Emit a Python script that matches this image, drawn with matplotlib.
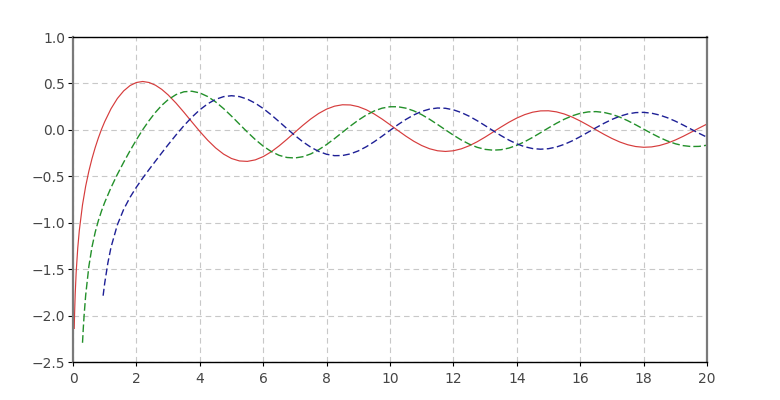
import matplotlib
matplotlib.use("Agg")
import matplotlib.pyplot as plt

# ---- data (three oscillating curves) ----
x_red = [0.039, 0.05, 0.07, 0.1, 0.15, 0.2, 0.3, 0.4, 0.5, 0.6, 0.7, 0.8, 0.9, 1.0,
         1.2, 1.4, 1.6, 1.8, 2.0, 2.2, 2.4, 2.6, 2.8,
         3.0, 3.25, 3.5, 3.75, 4.0, 4.25, 4.5, 4.75, 5.0, 5.25, 5.5, 5.75,
         6.0, 6.25, 6.5, 6.75, 7.0, 7.25, 7.5, 7.75, 8.0, 8.25, 8.5, 8.75,
         9.0, 9.25, 9.5, 9.75, 10.0, 10.25, 10.5, 10.75, 11.0, 11.25, 11.5, 11.75,
         12.0, 12.25, 12.5, 12.75, 13.0, 13.25, 13.5, 13.75, 14.0, 14.25, 14.5, 14.75,
         15.0, 15.25, 15.5, 15.75, 16.0, 16.25, 16.5, 16.75, 17.0, 17.25, 17.5, 17.75,
         18.0, 18.25, 18.5, 18.75, 19.0, 19.25, 19.5, 19.75, 20.0]
y_red = [-2.138, -1.979, -1.764, -1.534, -1.271, -1.081, -0.807, -0.606, -0.445,
         -0.309, -0.191, -0.087, 0.006, 0.088, 0.228, 0.338, 0.420, 0.477, 0.510,
         0.521, 0.510, 0.481, 0.436,
         0.3769, 0.2883, 0.1891, 0.0853, -0.0169, -0.1119, -0.1947, -0.2612,
         -0.3085, -0.3347, -0.3395, -0.3233, -0.2882, -0.2369, -0.1732, -0.1014,
         -0.0260, 0.0484, 0.1173, 0.1767, 0.2235, 0.2551, 0.2702, 0.2682,
         0.2499, 0.2167, 0.1712, 0.1163, 0.0557, -0.0069, -0.0675, -0.1226,
         -0.1688, -0.2037, -0.2252, -0.2324, -0.2252, -0.2043, -0.1712, -0.1282,
         -0.0782, -0.0243, 0.0301, 0.0816, 0.1272, 0.1641, 0.1903, 0.2043,
         0.2055, 0.1939, 0.1706, 0.1372, 0.0958, 0.0492, 0.0002, -0.0481,
         -0.0926, -0.1308, -0.1604, -0.1796, -0.1876, -0.1837, -0.1687, -0.1433,
         -0.1095, -0.0694, -0.0255, 0.0195, 0.0626]

x_green = [0.3, 0.325, 0.35, 0.4, 0.5, 0.6, 0.7, 0.8, 0.9, 1.0, 1.2, 1.4, 1.6, 1.8,
           2.0, 2.2, 2.4, 2.6, 2.8,
           3.0, 3.25, 3.5, 3.75, 4.0, 4.25, 4.5, 4.75, 5.0, 5.25, 5.5, 5.75,
           6.0, 6.25, 6.5, 6.75, 7.0, 7.25, 7.5, 7.75, 8.0, 8.25, 8.5, 8.75,
           9.0, 9.25, 9.5, 9.75, 10.0, 10.25, 10.5, 10.75, 11.0, 11.25, 11.5, 11.75,
           12.0, 12.25, 12.5, 12.75, 13.0, 13.25, 13.5, 13.75, 14.0, 14.25, 14.5, 14.75,
           15.0, 15.25, 15.5, 15.75, 16.0, 16.25, 16.5, 16.75, 17.0, 17.25, 17.5, 17.75,
           18.0, 18.25, 18.5, 18.75, 19.0, 19.25, 19.5, 19.75, 20.0]
y_green = [-2.293, -2.135, -2.000, -1.781, -1.471, -1.260, -1.103, -0.978, -0.873,
           -0.781, -0.621, -0.479, -0.348, -0.224, -0.107, 0.002, 0.100, 0.188, 0.264,
           0.3247, 0.3797, 0.4101, 0.4158, 0.3979, 0.3585, 0.3010, 0.2292,
           0.1479, 0.0619, -0.0238, -0.1041, -0.1750, -0.2325, -0.2741, -0.2977,
           -0.3027, -0.2893, -0.2591, -0.2143, -0.1581, -0.0940, -0.0262, 0.0413,
           0.1043, 0.1593, 0.2032, 0.2335, 0.2490, 0.2489, 0.2337, 0.2046,
           0.1637, 0.1137, 0.0579, -0.0002, -0.0571, -0.1093, -0.1538, -0.1880,
           -0.2101, -0.2188, -0.2140, -0.1962, -0.1666, -0.1274, -0.0810, -0.0305,
           0.0211, 0.0705, 0.1148, 0.1513, 0.1780, 0.1933, 0.1965, 0.1875,
           0.1672, 0.1369, 0.0986, 0.0547, 0.0082, -0.0383, -0.0817, -0.1196,
           -0.1496, -0.1699, -0.1796, -0.1780, -0.1655]

x_blue = [0.95, 1.0, 1.1, 1.2, 1.4, 1.6, 1.8, 2.0, 2.2, 2.4, 2.6, 2.8,
          3.0, 3.25, 3.5, 3.75, 4.0, 4.25, 4.5, 4.75, 5.0, 5.25, 5.5, 5.75,
          6.0, 6.25, 6.5, 6.75, 7.0, 7.25, 7.5, 7.75, 8.0, 8.25, 8.5, 8.75,
          9.0, 9.25, 9.5, 9.75, 10.0, 10.25, 10.5, 10.75, 11.0, 11.25, 11.5, 11.75,
          12.0, 12.25, 12.5, 12.75, 13.0, 13.25, 13.5, 13.75, 14.0, 14.25, 14.5, 14.75,
          15.0, 15.25, 15.5, 15.75, 16.0, 16.25, 16.5, 16.75, 17.0, 17.25, 17.5, 17.75,
          18.0, 18.25, 18.5, 18.75, 19.0, 19.25, 19.5, 19.75, 20.0]
y_blue = [-1.786, -1.651, -1.433, -1.263, -1.022, -0.855, -0.726, -0.617, -0.519,
          -0.427, -0.337, -0.248,
          -0.1604, -0.0547, 0.0453, 0.1364, 0.2159, 0.2806, 0.3285, 0.3577,
          0.3677, 0.3583, 0.3308, 0.2871, 0.2299, 0.1625, 0.0889, 0.0132,
          -0.0605, -0.1282, -0.1864, -0.2320, -0.2630, -0.2779, -0.2764, -0.2588,
          -0.2267, -0.1823, -0.1284, -0.0684, -0.0059, 0.0555, 0.1120, 0.1606,
          0.1986, 0.2239, 0.2353, 0.2324, 0.2157, 0.1864, 0.1466, 0.0987,
          0.0459, -0.0087, -0.0618, -0.1101, -0.1510, -0.1820, -0.2015, -0.2084,
          -0.2027, -0.1847, -0.1558, -0.1180, -0.0736, -0.0254, 0.0236, 0.0704,
          0.1123, 0.1467, 0.1717, 0.1858, 0.1885, 0.1795, 0.1598, 0.1306,
          0.0938, 0.0517, 0.0070, -0.0375, -0.0792]

x_ticks = [0, 2, 4, 6, 8, 10, 12, 14, 16, 18, 20]
y_ticks = [-2.5, -2.0, -1.5, -1.0, -0.5, 0.0, 0.5, 1.0]

plt.rcParams['font.family'] = ['DejaVu Sans']

fig = plt.figure(figsize=(7.8, 4.0), dpi=100)
ax = fig.add_axes([73 / 780, 1 - 362 / 400, (707 - 73) / 780, (362 - 37) / 400])

ax.plot(x_red, y_red, color='#d63c3c', lw=0.85)
ax.plot(x_green, y_green, color='#23902a', lw=1.0, dashes=(5.5, 2.2))
ax.plot(x_blue, y_blue, color='#1e2096', lw=1.0, dashes=(5, 2.4))

ax.set_xlim(0, 20)
ax.set_ylim(-2.5, 1.0)
ax.set_xticks(x_ticks)
ax.set_yticks(y_ticks)
ax.set_xticklabels([str(v) for v in x_ticks])
ax.set_yticklabels(['\u2212%.1f' % abs(v) if v < 0 else '%.1f' % v for v in y_ticks])

ax.grid(True, color='#c8c8c8', lw=0.8, dashes=(5, 3.5))
ax.set_axisbelow(True)

for side in ('left', 'right'):
    ax.spines[side].set_color('#7a7a7a')
    ax.spines[side].set_linewidth(1.6)
for side in ('top', 'bottom'):
    ax.spines[side].set_color('black')
    ax.spines[side].set_linewidth(1.0)

ax.tick_params(axis='y', direction='out', length=3.5, width=0.8, color='black',
               labelsize=10, labelcolor='#454545', pad=2)
ax.tick_params(axis='x', direction='out', length=3, width=0.8, color='black',
               labelsize=10, labelcolor='#454545', pad=4)

fig.savefig('out.png', dpi=100)
